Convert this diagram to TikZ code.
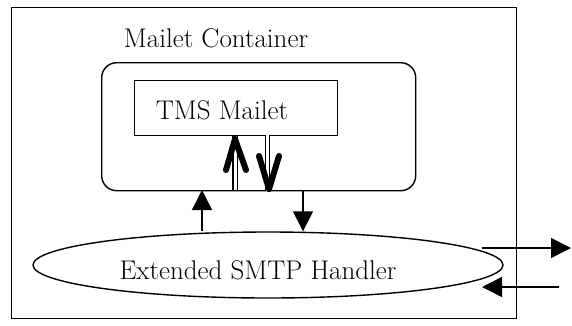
\documentclass[tikz,border=0pt]{standalone}
\usepackage{fontspec}
\usetikzlibrary{shapes.geometric,arrows.meta,calc}
\begin{document}
\begin{tikzpicture}[x=1pt,y=-1pt,
  box/.style={draw,line width=1.4pt,rectangle,inner sep=0pt,anchor=north west},
  lbl/.style={font=\fontsize{27}{30}\selectfont,inner sep=0pt},
  thin/.style={line width=1.4pt,-{Triangle[length=20pt,width=20pt]}},
  dbl/.style={double,double distance=3pt,line width=1.1pt},
  chev/.style={line width=6pt,line cap=round,line join=round}]
\useasboundingbox (0,0) rectangle (572,325);
\node[box,minimum width=505pt,minimum height=311pt] (outer) at (11,7) {};
\node[box,rounded corners=15pt,minimum width=314pt,minimum height=128pt] (cont) at (101,62) {};
\node[box,minimum width=203pt,minimum height=55pt] (tms) at (134,80) {};
\node[draw,line width=1.4pt,ellipse,minimum width=470pt,minimum height=66pt,inner sep=0pt] (ell) at (268,265) {};
\node[lbl] (tcont) at (216,38) {Mailet Container};
\node[lbl] (ttms) at (222,110) {TMS Mailet};
\node[lbl] (tell) at (258,270) {Extended SMTP Handler};
% small arrows between handler and container
\coordinate (u1) at (202,190);
\coordinate (d1) at (303,190);
\draw[thin] (ell.north -| u1) -- (u1);
\draw[thin] (d1) -- (ell.north -| d1);
% thick arrows between container and TMS mailet
\coordinate (ua) at (235,190);
\coordinate (ub) at (235,139);
\draw[dbl] (ua) -- (ub |- tms.south);
\draw[chev] ($(ub)+(-9,31)$) -- (ub) -- ($(ub)+(11,31)$);
\coordinate (da) at (267.5,135);
\coordinate (db) at (269,189);
\draw[dbl] (da) -- (da |- cont.south);
\draw[chev] ($(db)+(-10,-33)$) -- (db) -- ($(db)+(10,-33)$);
% external arrows
\coordinate (o1) at (482,248);
\coordinate (o2) at (571,248);
\coordinate (i1) at (559,287);
\coordinate (i2) at (482,287);
\draw[thin] (o1) -- (o2);
\draw[thin] (i1) -- (i2);
\end{tikzpicture}
\end{document}
